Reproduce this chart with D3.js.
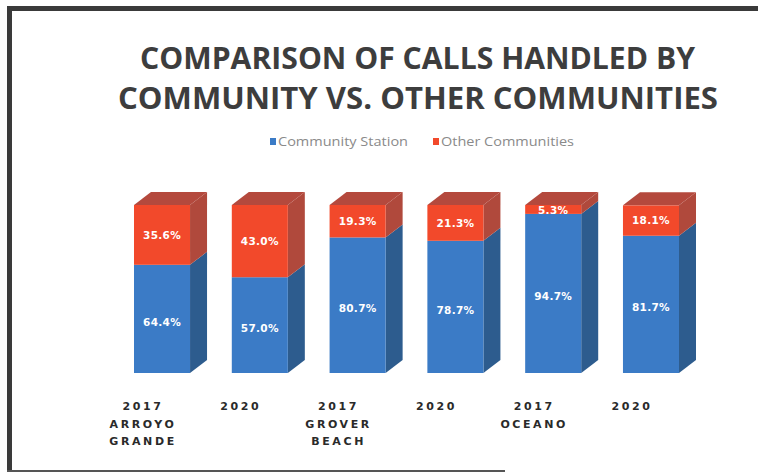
<!DOCTYPE html>
<html>
<head>
<meta charset="utf-8">
<script src="https://cdn.jsdelivr.net/npm/d3@7"></script>
<style>
  html, body { margin: 0; padding: 0; background: #fff; }
  svg { display: block; }
</style>
</head>
<body>
<svg id="chart" width="758" height="474"></svg>
<script>
// Calls handled by each community's station vs. other communities (percent of calls)
const categories = [
  ["2017", "ARROYO", "GRANDE"],
  ["2020"],
  ["2017", "GROVER", "BEACH"],
  ["2020"],
  ["2017", "OCEANO"],
  ["2020"]
];
const communityStation = [64.4, 57.0, 80.7, 78.7, 94.7, 81.7];
const otherCommunities = [35.6, 43.0, 19.3, 21.3, 5.3, 18.1];
const seriesNames = ["Community Station", "Other Communities"];
const titleLines = ["COMPARISON OF CALLS HANDLED BY", "COMMUNITY VS. OTHER COMMUNITIES"];

const colors = {
  blueFront: "#3b7bc6", blueSide: "#2d5c8e",
  redFront: "#f2492b", redSide: "#b0493c", redTop: "#b4493d"
};

const svg = d3.select("#chart");

// Frame around the slide
svg.append("rect").attr("x", 7).attr("y", 6).attr("width", 758).attr("height", 5).attr("fill", "#3a3a3a");
svg.append("rect").attr("x", 7).attr("y", 6).attr("width", 5).attr("height", 466).attr("fill", "#3a3a3a");
svg.append("line").attr("x1", 7).attr("x2", 505).attr("y1", 471).attr("y2", 471)
  .attr("stroke", "#555").attr("stroke-width", 2);

// Title
const titleBaselines = [69, 109];
const titleSpans = [[140, 695], [118, 718]];
titleLines.forEach((t, i) => {
  svg.append("text")
    .attr("x", titleSpans[i][0])
    .attr("y", titleBaselines[i])
    .attr("textLength", titleSpans[i][1] - titleSpans[i][0])
    .attr("lengthAdjust", "spacingAndGlyphs")
    .attr("font-family", "'Open Sans', sans-serif")
    .attr("font-weight", 700)
    .attr("font-size", 31)
    .attr("fill", "#3d3d3d")
    .text(t);
});

// Legend
const legendItems = [
  { name: seriesNames[0], color: colors.blueFront, x: 270, w: 130 },
  { name: seriesNames[1], color: colors.redFront, x: 433, w: 133 }
];
legendItems.forEach(d => {
  svg.append("rect").attr("x", d.x).attr("y", 138).attr("width", 6).attr("height", 7).attr("fill", d.color);
  svg.append("text")
    .attr("x", d.x + 8).attr("y", 146)
    .attr("textLength", d.w).attr("lengthAdjust", "spacingAndGlyphs")
    .attr("font-family", "'Open Sans', sans-serif")
    .attr("font-size", 12)
    .attr("fill", "#8a8a8a")
    .text(d.name);
});

// Scales
const x = d3.scaleBand()
  .domain(d3.range(categories.length))
  .range([134, 679])
  .paddingInner(0.427)
  .paddingOuter(0);
const y = d3.scaleLinear().domain([0, 100]).range([373, 205]);

const dx = 17, dy = 13;
const bw = x.bandwidth();

const bars = svg.append("g").selectAll("g.bar")
  .data(categories.map((c, i) => ({ i, blue: communityStation[i], red: otherCommunities[i] })))
  .join("g").attr("class", "bar");

const poly = pts => "M" + pts.map(p => p.join(",")).join("L") + "Z";

bars.each(function (d) {
  const g = d3.select(this);
  const xl = x(d.i), xr = xl + bw;
  const y0 = y(0), y1 = y(d.blue), y2 = y(d.blue + d.red);

  // side faces
  g.append("path").attr("fill", colors.blueSide)
    .attr("d", poly([[xr, y1], [xr + dx, y1 - dy], [xr + dx, y0 - dy], [xr, y0]]));
  g.append("path").attr("fill", colors.redSide)
    .attr("d", poly([[xr, y2], [xr + dx, y2 - dy], [xr + dx, y1 - dy], [xr, y1]]));
  // front faces
  g.append("rect").attr("x", xl).attr("y", y1).attr("width", bw).attr("height", y0 - y1)
    .attr("fill", colors.blueFront);
  g.append("rect").attr("x", xl).attr("y", y2).attr("width", bw).attr("height", y1 - y2)
    .attr("fill", colors.redFront);
  // top face
  g.append("path").attr("fill", colors.redTop)
    .attr("d", poly([[xl, y2], [xl + dx, y2 - dy], [xr + dx, y2 - dy], [xr, y2]]));

  // value labels
  const lbl = (v, cy) => g.append("text")
    .attr("x", xl + bw / 2).attr("y", cy).attr("dy", "0.35em")
    .attr("text-anchor", "middle")
    .attr("font-family", "'DejaVu Sans', sans-serif")
    .attr("font-weight", 700).attr("font-size", 10.5)
    .attr("letter-spacing", 0.3)
    .attr("fill", "#ffffff")
    .text(v.toFixed(1) + "%");
  lbl(d.blue, (y0 + y1) / 2 + 3);
  lbl(d.red, Math.max((y1 + y2) / 2, y2 + 5));
});

// Category labels
const cat = svg.append("g");
categories.forEach((lines, i) => {
  const cx = x(i) + bw / 2 - 19;
  const t = cat.append("text")
    .attr("text-anchor", "middle")
    .attr("font-family", "'DejaVu Sans', sans-serif")
    .attr("font-weight", 700)
    .attr("font-size", 11)
    .attr("letter-spacing", 2.6)
    .attr("fill", "#2a2a2a");
  lines.forEach((s, j) => {
    t.append("tspan").attr("x", cx).attr("y", 410 + j * 17.5).text(s);
  });
});
</script>
</body>
</html>
